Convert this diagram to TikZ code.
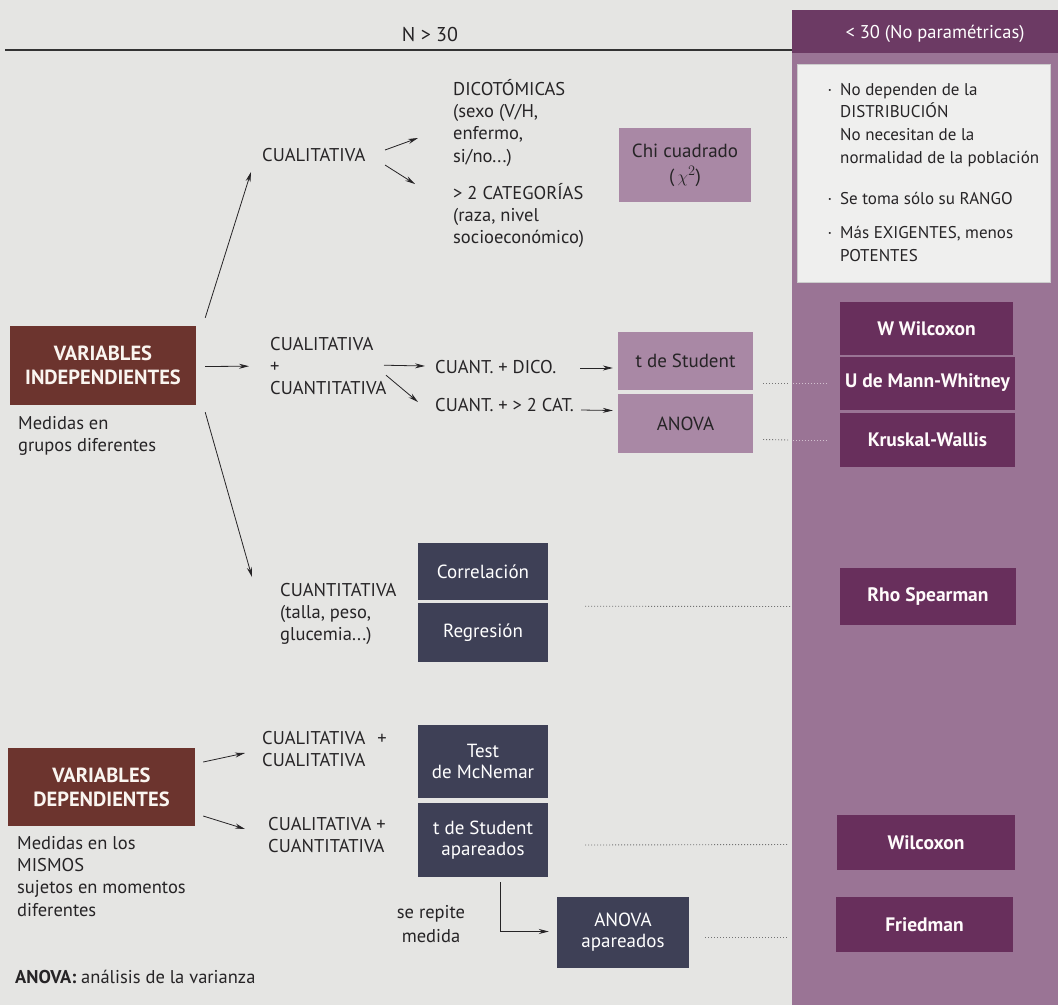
\documentclass[tikz,border=0pt]{standalone}
\usepackage{fontspec}
\setmainfont{PT Sans}
\usetikzlibrary{calc,arrows.meta}
\definecolor{bg}{RGB}{229,229,227}
\definecolor{ink}{RGB}{38,36,38}
\definecolor{panel}{RGB}{154,116,149}
\definecolor{phead}{RGB}{108,58,100}
\definecolor{dpurp}{RGB}{104,47,92}
\definecolor{lpurp}{RGB}{169,136,165}
\definecolor{navy}{RGB}{62,64,86}
\definecolor{brownbox}{RGB}{108,52,46}
\definecolor{wbox}{RGB}{239,239,238}
\begin{document}
\begin{tikzpicture}[x=1pt,y=-1pt,
  txt/.style={inner sep=0pt, font=\fontsize{18.5}{22.3}\selectfont, text=ink, align=left},
  wtxt/.style={inner sep=0pt, font=\fontsize{17}{22.6}\selectfont, text=ink, align=left},
  lbox/.style={fill=lpurp, inner sep=0pt, font=\fontsize{19}{22}\selectfont, text=ink, align=center},
  nbox/.style={fill=navy, inner sep=0pt, font=\fontsize{19}{21}\selectfont, text=white, align=center},
  dbox/.style={fill=dpurp, inner sep=0pt, font=\fontsize{19.5}{22}\selectfont\bfseries, text=white!94!pink, align=center},
  bbox/.style={fill=brownbox, inner sep=0pt, font=\fontsize{20.5}{24}\selectfont\bfseries, text=white!92!brown, align=center},
  arr/.style={-{Stealth[length=10pt,width=5pt]}, line width=0.8pt, draw=ink},
  dotline/.style={draw=black!55, line width=0.9pt, dash pattern=on 0.9pt off 2.1pt},
  pdotline/.style={draw=white!55!panel, line width=0.9pt, dash pattern=on 0.9pt off 2.1pt}]
\useasboundingbox (0,0) rectangle (1058,1005);
\fill[bg] (0,0) rectangle (1058,1005);
% right panel
\fill[panel] (792,10) rectangle (1058,1005);
\fill[phead] (792,10) rectangle (1058,53);
\coordinate (pl) at (790,0);
\draw[line width=2pt, draw=black!80] (5,50) -- (792,50);
\node[txt, font=\fontsize{20}{22}\selectfont] (hdrL) at (430,34) {N > 30};
\node[txt, text=white, font=\fontsize{18.5}{22}\selectfont] (hdrR) at (935,34) {< 30 (No paramétricas)};
% white box
\node[fill=wbox, draw=black!20, line width=0.5pt, minimum width=253pt, minimum height=218pt, inner sep=0pt] (wb) at (923.5,173) {};
\node[wtxt, anchor=north west] (b1) at (840,83) {\llap{\textperiodcentered\hspace{8pt}}No dependen de la\\DISTRIBUCIÓN\\No necesitan de la\\normalidad de la población};
\node[wtxt, anchor=west] (b2) at (840,198) {\llap{\textperiodcentered\hspace{8pt}}Se toma sólo su RANGO};
\node[wtxt, anchor=north west] (b3) at (840,226) {\llap{\textperiodcentered\hspace{8pt}}Más EXIGENTES, menos\\POTENTES};
% right dark boxes
\node[dbox, minimum width=173pt, minimum height=53pt] (ww) at (926.5,328.5) {W Wilcoxon};
\node[dbox, minimum width=175pt, minimum height=53pt] (um) at (927.5,383) {U de Mann-Whitney};
\node[dbox, minimum width=175pt, minimum height=54pt] (kw) at (927.5,440) {Kruskal-Wallis};
\node[dbox, minimum width=176pt, minimum height=57pt] (rho) at (928,596.5) {Rho Spearman};
\node[dbox, minimum width=178pt, minimum height=55pt] (wil) at (926,842.5) {Wilcoxon};
\node[dbox, minimum width=177pt, minimum height=55pt] (fri) at (924.5,924.5) {Friedman};
% left: independientes
\node[bbox, minimum width=186pt, minimum height=79pt] (vi) at (103,365.5) {VARIABLES\\INDEPENDIENTES};
\node[txt, anchor=north west] (vitxt) at (18,416) {Medidas en\\grupos diferentes};
\node[txt, anchor=west] (cual1) at (262,155) {CUALITATIVA};
\node[txt, anchor=north west] (dico) at (453,79) {DICOTÓMICAS\\(sexo (V/H,\\enfermo,\\si/no...)};
\node[txt, anchor=north west] (cat) at (453,183) {> 2 CATEGORÍAS\\(raza, nivel\\socioeconómico)};
\node[lbox, minimum width=132pt, minimum height=74pt] (chi) at (685,165) {Chi cuadrado\\[3pt](\,{\fontsize{19}{22}\selectfont$\chi^2$})};
\node[txt, anchor=north west] (mix) at (270,337) {CUALITATIVA\\+\\CUANTITATIVA};
\node[txt, anchor=west] (dico2) at (435,367) {CUANT. + DICO.};
\node[txt, anchor=west] (cat2) at (435,405) {CUANT. + > 2 CAT.};
\node[lbox, minimum width=135pt, minimum height=58pt] (tst) at (685.5,361) {t de Student};
\node[lbox, minimum width=135pt, minimum height=59pt] (anova) at (685.5,423.5) {ANOVA};
\node[txt, anchor=north west] (cuant) at (280,583) {CUANTITATIVA\\(talla, peso,\\glucemia...)};
\node[nbox, minimum width=130pt, minimum height=57pt] (corr) at (483,571.5) {Correlación};
\node[nbox, minimum width=130pt, minimum height=59pt] (regr) at (483,632.5) {Regresión};
% dependientes
\node[bbox, minimum width=187pt, minimum height=78pt] (vd) at (101.5,787) {VARIABLES\\DEPENDIENTES};
\node[txt, anchor=north west] (vdtxt) at (17,836) {Medidas en los\\MISMOS\\sujetos en momentos\\diferentes};
\node[txt, anchor=west] (note) at (15,977) {\textbf{ANOVA:} análisis de la varianza};
\node[txt, anchor=north west] (cc) at (262,731) {CUALITATIVA\hspace{12pt}+\\CUALITATIVA};
\node[txt, anchor=north west] (cq) at (268,817) {CUALITATIVA +\\CUANTITATIVA};
\node[nbox, minimum width=130pt, minimum height=73pt] (mcn) at (483,761.5) {Test\\de McNemar};
\node[nbox, minimum width=130pt, minimum height=74pt] (tsa) at (483,840) {t de Student\\apareados};
\node[txt, anchor=north, align=center, font=\fontsize{18.5}{24}\selectfont] (serep) at (431,905) {se repite\\medida};
\node[nbox, minimum width=132pt, minimum height=71pt] (anp) at (623,932.5) {ANOVA\\apareados};
% arrows
\draw[arr] ($(vi.north east)+(9,-8)$) -- ($(cual1.west)+(-11,17)$);
\draw[arr] ($(vi.east)+(9,1)$) -- ($(mix.west)+(-21,0)$);
\draw[arr] ($(vi.south east)+(9,7)$) -- ($(cuant.north west)+(-28,-6)$);
\draw[arr] ($(cual1.west)+(123,-5)$) -- ($(dico.north west)+(-35,59)$);
\draw[arr] ($(cual1.west)+(123,10)$) -- ($(cat.north west)+(-38,1)$);
\draw[arr] ($(mix.west)+(114,-1)$) -- ($(dico2.west)+(-10,-1)$);
\draw[arr] ($(mix.west)+(116,9)$) -- ($(cat2.west)+(-17,-3)$);
\draw[arr] ($(dico2.west)+(145,1)$) -- ($(tst.west)+(-5,7)$);
\draw[arr] ($(cat2.west)+(146,5)$) -- ($(anova.west)+(-5,-13)$);
\draw[arr] ($(vd.east)+(8,-25)$) -- ($(cc.north west)+(-17,22)$);
\draw[arr] ($(vd.east)+(8,29)$) -- ($(cq.north west)+(-23,12)$);
\draw[arr] ($(tsa.south)+(17,5)$) |- ($(anp.west)+(-8,-1)$);
% dotted links
\draw[dotline] ($(tst.east)+(10,22)$) -- (um.west -| pl);
\draw[pdotline] ($(um.west -| pl)+(3,0)$) -- ($(um.west)+(-12,0)$);
\draw[dotline] ($(anova.east)+(10,16)$) -- (kw.west -| pl);
\draw[pdotline] ($(kw.west -| pl)+(3,0)$) -- ($(kw.west)+(-12,0)$);
\draw[dotline] ($(corr.south east)+(37,6)$) -- ($(rho.west -| pl)+(0,10)$);
\draw[dotline] ($(tsa.east)+(37,5)$) -- ($(wil.west -| pl)+(-3,2)$);
\draw[dotline] ($(anp.east)+(16,5)$) -- ($(fri.west -| pl)+(-3,13)$);
\end{tikzpicture}
\end{document}
